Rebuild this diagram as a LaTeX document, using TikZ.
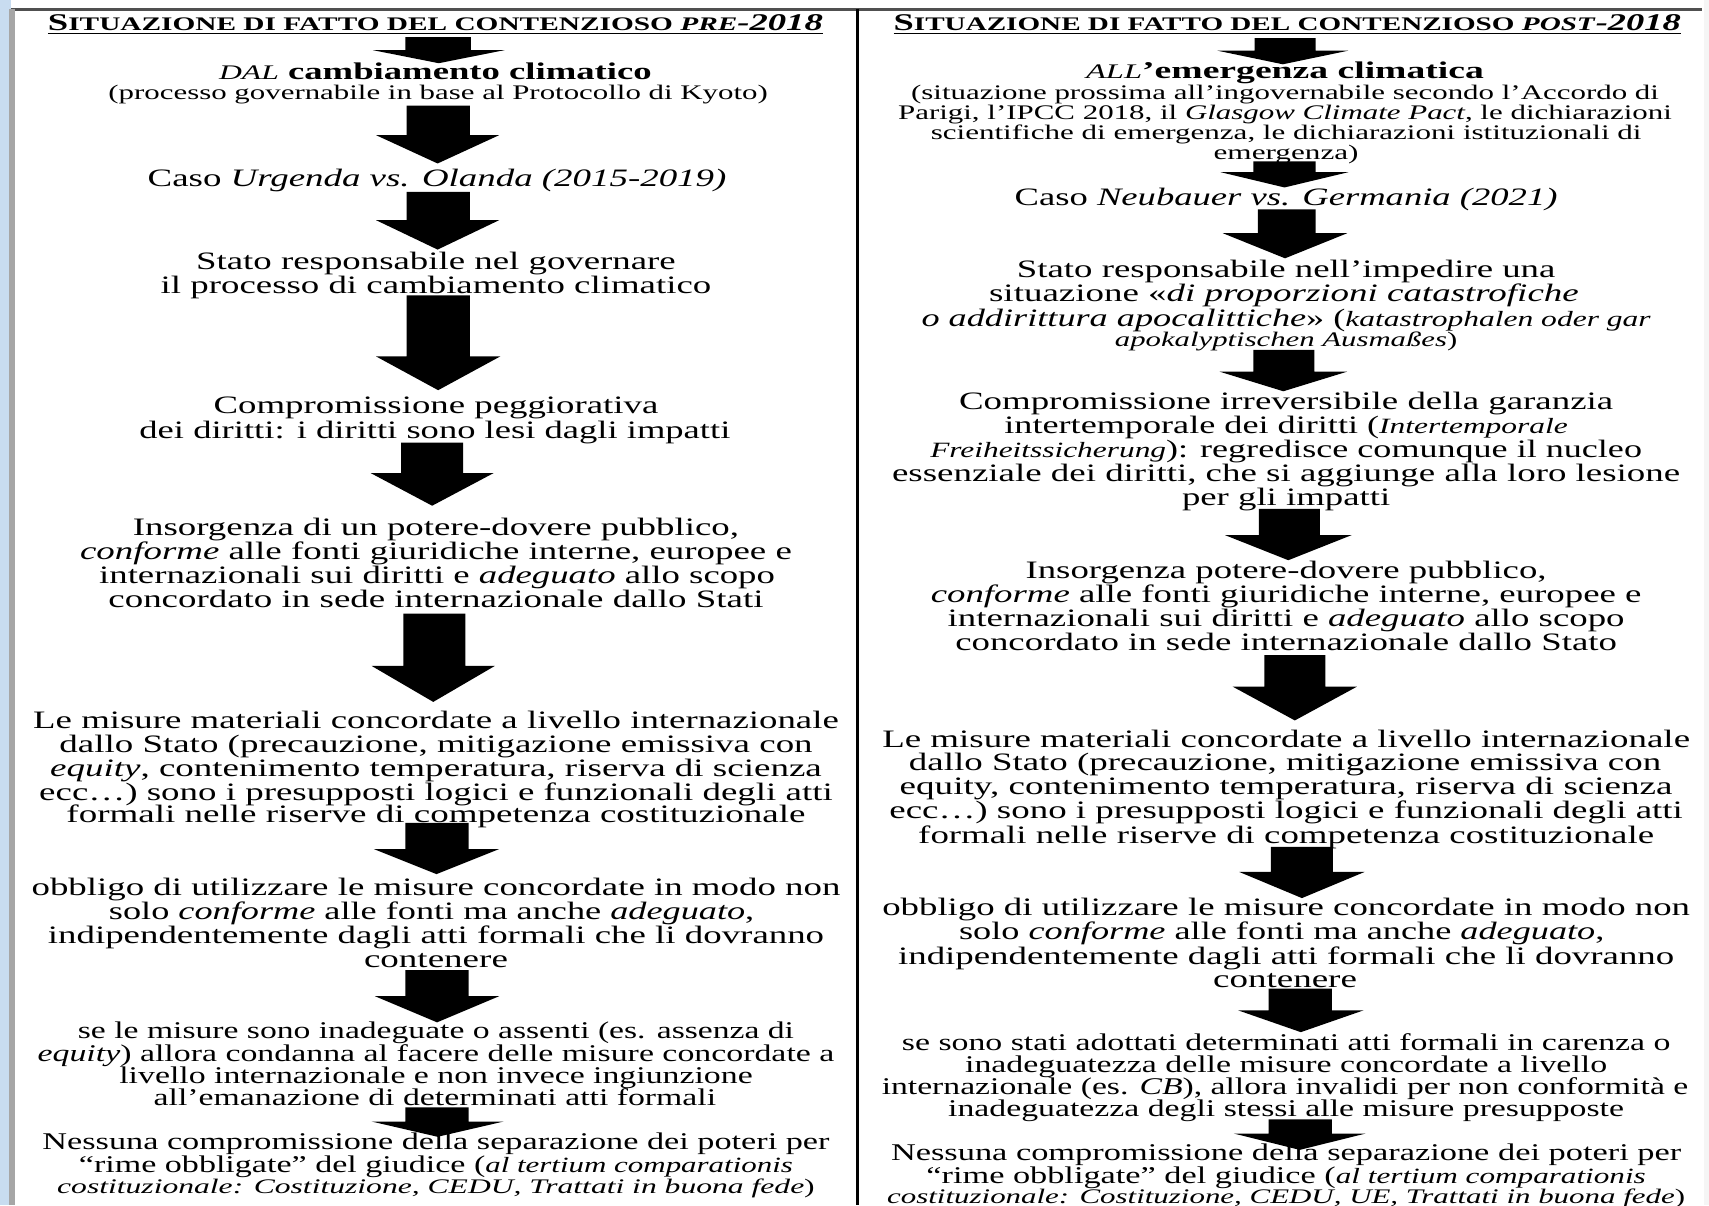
\documentclass[tikz,border=0pt]{standalone}
\usepackage{fontspec}
\setmainfont{Liberation Serif}
\usepackage{graphicx}
\newcommand\fw[2]{\resizebox{\dimexpr #1pt/2\relax}{\height}{#2}}
\newcommand\smcap[1]{{\fontsize{8.8}{10}\selectfont #1}}
\newcommand\hdtext[1]{\underline{S\smcap{ITUAZIONE DI FATTO DEL CONTENZIOSO \textit{#1}}\textit{-2018}}}
\newcommand\barrow[7]{\fill[black] (#1,#5) -- (#2,#5) -- (#2,#6) -- (#4,#6) -- ({(#3+#4)/2},#7) -- (#3,#6) -- (#1,#6) -- cycle;}
\newcommand\sit[1]{{\fontsize{10}{11}\selectfont\itshape #1}}
\definecolor{bgblue}{RGB}{200,220,240}
\definecolor{framegray}{RGB}{80,80,80}
\begin{document}
\begin{tikzpicture}[x=0.5pt,y=-0.5pt,
  ln/.style={anchor=base,inner sep=0pt,font=\fontsize{11.5}{13}\selectfont},
  lnm/.style={ln,font=\fontsize{11}{12}\selectfont},
  lns/.style={ln,font=\fontsize{9.5}{11}\selectfont},
  lnt/.style={ln,font=\fontsize{11}{12}\selectfont},
  hd/.style={ln,font=\fontsize{11}{12}\selectfont\bfseries}]
\useasboundingbox (0,0) rectangle (1568,1106);
% background and frame
\fill[white] (0,0) rectangle (1568,1106);
\fill[bgblue] (0,0) rectangle (10,1106);
\fill[gray!8] (1563,0) rectangle (1568,1106);
\draw[framegray,line width=1.5] (10,8.5) -- (1562,8.5);
\draw[gray!70,line width=2.5] (11,8) -- (11,1106);
\draw[black,line width=1.5] (787,8) -- (787,1106);

% ---------------- LEFT COLUMN ----------------
\node[hd] (lh) at (399.5,28) {\fw{711}{\hdtext{PRE}}};
\barrow{372}{432}{342}{463}{34}{46}{58}
\node[lnt] (l1a) at (399.5,73) {\fw{397}{{\itshape\fontsize{9.5}{10}\selectfont DAL} \textbf{cambiamento climatico}}};
\node[lns] (l1b) at (402,91) {\fw{605}{(processo governabile in base al Protocollo di Kyoto)}};
\barrow{373}{431}{345}{458}{97}{124}{150}
\node[ln] (l2a) at (401,171) {\fw{531}{Caso \textit{Urgenda vs. Olanda (2015-2019)}}};
\barrow{373}{431}{345}{458}{176}{202}{229}
\node[ln] (l3a) at (400,247) {\fw{440}{Stato responsabile nel governare}};
\node[ln] (l3b) at (400,269) {\fw{505}{il processo di cambiamento climatico}};
\barrow{373}{431}{345}{459}{271}{327}{358}
\node[ln] (l4a) at (400,379) {\fw{408}{Compromissione peggiorativa}};
\node[ln] (l4b) at (399,402) {\fw{542}{dei diritti: i diritti sono lesi dagli impatti}};
\barrow{368}{425}{340}{453}{406}{434}{464}
\node[ln] (l5a) at (400,491) {\fw{556}{Insorgenza di un potere-dovere pubblico,}};
\node[ln] (l5b) at (400,513) {\fw{653}{\textit{conforme} alle fonti giuridiche interne, europee e}};
\node[ln] (l5c) at (401,535) {\fw{620}{internazionali sui diritti e \textit{adeguato} allo scopo}};
\node[ln] (l5d) at (400,557) {\fw{601}{concordato in sede internazionale dallo Stati}};
\barrow{370}{427}{341}{454}{563}{611}{644}
\node[ln] (l6a) at (400,668) {\fw{739}{Le misure materiali concordate a livello internazionale}};
\node[ln] (l6b) at (400,690) {\fw{691}{dallo Stato (precauzione, mitigazione emissiva con}};
\node[ln] (l6c) at (400,712) {\fw{708}{\textit{equity}, contenimento temperatura, riserva di scienza}};
\node[ln] (l6d) at (400,734) {\fw{728}{ecc…) sono i presupposti logici e funzionali degli atti}};
\node[ln] (l6e) at (400,755) {\fw{678}{formali nelle riserve di competenza costituzionale}};
\barrow{372}{430}{343}{458}{755}{779}{802}
\node[ln] (l7a) at (400,822) {\fw{742}{obbligo di utilizzare le misure concordate in modo non}};
\node[ln] (l7b) at (396,844) {\fw{592}{solo \textit{conforme} alle fonti ma anche \textit{adeguato},}};
\node[ln] (l7c) at (400,866) {\fw{712}{indipendentemente dagli atti formali che li dovranno}};
\node[ln] (l7d) at (400,888) {\fw{132}{contenere}};
\barrow{372}{430}{344}{458}{890}{914}{938}
\node[lnm] (l8a) at (400,953) {\fw{657}{se le misure sono inadeguate o assenti (es. assenza di}};
\node[lnm] (l8b) at (400,974) {\fw{731}{\textit{equity}) allora condanna al facere delle misure concordate a}};
\node[lnm] (l8c) at (400,994) {\fw{581}{livello internazionale e non invece ingiunzione}};
\node[lnm] (l8d) at (399,1014) {\fw{516}{all’emanazione di determinati atti formali}};
\barrow{372}{430}{341}{462}{1016}{1029}{1043}
\node[lnm] (l9a) at (400,1055) {\fw{722}{Nessuna compromissione della separazione dei poteri per}};
\node[lnm] (l9b) at (400,1076) {\fw{655}{“rime obbligate” del giudice (\sit{al tertium comparationis}}};
\node[lns] (l9c) at (400,1095) {\fw{695}{\textit{costituzionale: Costituzione, CEDU, Trattati in buona fede})}};

% ---------------- RIGHT COLUMN ----------------
\node[hd] (rh) at (1181,28) {\fw{722}{\hdtext{POST}}};
\barrow{1151}{1207}{1117}{1237}{35}{46.5}{59}
\node[lnt] (r1a) at (1179,72) {\fw{365}{{\itshape\fontsize{9.5}{10}\selectfont ALL}\textbf{’emergenza climatica}}};
\node[lns] (r1b) at (1179,91) {\fw{686}{(situazione prossima all’ingovernabile secondo l’Accordo di}};
\node[lns] (r1c) at (1179,110) {\fw{710}{Parigi, l’IPCC 2018, il \textit{Glasgow Climate Pact}, le dichiarazioni}};
\node[lns] (r1d) at (1180,128) {\fw{652}{scientifiche di emergenza, le dichiarazioni istituzionali di}};
\node[lns] (r1e) at (1180,146) {\fw{133}{emergenza)}};
\barrow{1150}{1207}{1120}{1237}{148}{158}{172}
\node[ln] (r2a) at (1180,189) {\fw{498}{Caso \textit{Neubauer vs. Germania (2021)}}};
\barrow{1154}{1207}{1122}{1236}{192}{214}{237}
\node[ln] (r3a) at (1180,255) {\fw{494}{Stato responsabile nell’impedire una}};
\node[ln] (r3b) at (1178,277) {\fw{541}{situazione «\textit{di proporzioni catastrofiche}}};
\node[ln] (r3c) at (1180,300) {\fw{669}{\textit{o addirittura apocalittiche}» (\sit{katastrophalen oder gar}}};
\node[lns] (r3d) at (1180,318) {\fw{314}{\textit{apokalyptischen Ausmaßes})}};
\barrow{1150}{1206}{1119}{1236}{321}{341}{359}
\node[ln] (r4a) at (1180,376) {\fw{600}{Compromissione irreversibile della garanzia}};
\node[ln] (r4b) at (1180,398) {\fw{517}{intertemporale dei diritti (\sit{Intertemporale}}};
\node[ln] (r4c) at (1180,420) {\fw{653}{\sit{Freiheitssicherung}): regredisce comunque il nucleo}};
\node[ln] (r4d) at (1180,442) {\fw{723}{essenziale dei diritti, che si aggiunge alla loro lesione}};
\node[ln] (r4e) at (1180,464) {\fw{191}{per gli impatti}};
\barrow{1155}{1211}{1124}{1240}{467}{491}{514}
\node[ln] (r5a) at (1180,531) {\fw{478}{Insorgenza potere-dovere pubblico,}};
\node[ln] (r5b) at (1180,553) {\fw{652}{\textit{conforme} alle fonti giuridiche interne, europee e}};
\node[ln] (r5c) at (1180,575) {\fw{621}{internazionali sui diritti e \textit{adeguato} allo scopo}};
\node[ln] (r5d) at (1180,597) {\fw{607}{concordato in sede internazionale dallo Stato}};
\barrow{1160}{1216}{1131}{1245}{601}{630}{661}
\node[ln] (r6a) at (1180,686) {\fw{741}{Le misure materiali concordate a livello internazionale}};
\node[ln] (r6b) at (1179,707) {\fw{690}{dallo Stato (precauzione, mitigazione emissiva con}};
\node[ln] (r6c) at (1180,729) {\fw{709}{equity, contenimento temperatura, riserva di scienza}};
\node[ln] (r6d) at (1180,751) {\fw{728}{ecc…) sono i presupposti logici e funzionali degli atti}};
\node[ln] (r6e) at (1180,774) {\fw{675}{formali nelle riserve di competenza costituzionale}};
\barrow{1166}{1223}{1137}{1252}{777}{800}{824}
\node[ln] (r7a) at (1180,840) {\fw{741}{obbligo di utilizzare le misure concordate in modo non}};
\node[ln] (r7b) at (1176,862) {\fw{592}{solo \textit{conforme} alle fonti ma anche \textit{adeguato},}};
\node[ln] (r7c) at (1180,885) {\fw{712}{indipendentemente dagli atti formali che li dovranno}};
\node[ln] (r7d) at (1179,906) {\fw{132}{contenere}};
\barrow{1164}{1222}{1136}{1251}{907}{927}{947}
\node[lnm] (r8a) at (1180,964) {\fw{705}{se sono stati adottati determinati atti formali in carenza o}};
\node[lnm] (r8b) at (1180,984) {\fw{589}{inadeguatezza delle misure concordate a livello}};
\node[lnm] (r8c) at (1179,1004) {\fw{740}{internazionale (es. \textit{CB}), allora invalidi per non conformità e}};
\node[lnm] (r8d) at (1180,1024) {\fw{620}{inadeguatezza degli stessi alle misure presupposte}};
\barrow{1164}{1222}{1132}{1253}{1027}{1040}{1055}
\node[lnm] (r9a) at (1180,1065) {\fw{725}{Nessuna compromissione della separazione dei poteri per}};
\node[lnm] (r9b) at (1180,1086) {\fw{660}{“rime obbligate” del giudice (\sit{al tertium comparationis}}};
\node[lns] (r9c) at (1180,1104) {\fw{732}{\textit{costituzionale: Costituzione, CEDU, UE, Trattati in buona fede})}};
\end{tikzpicture}
\end{document}
